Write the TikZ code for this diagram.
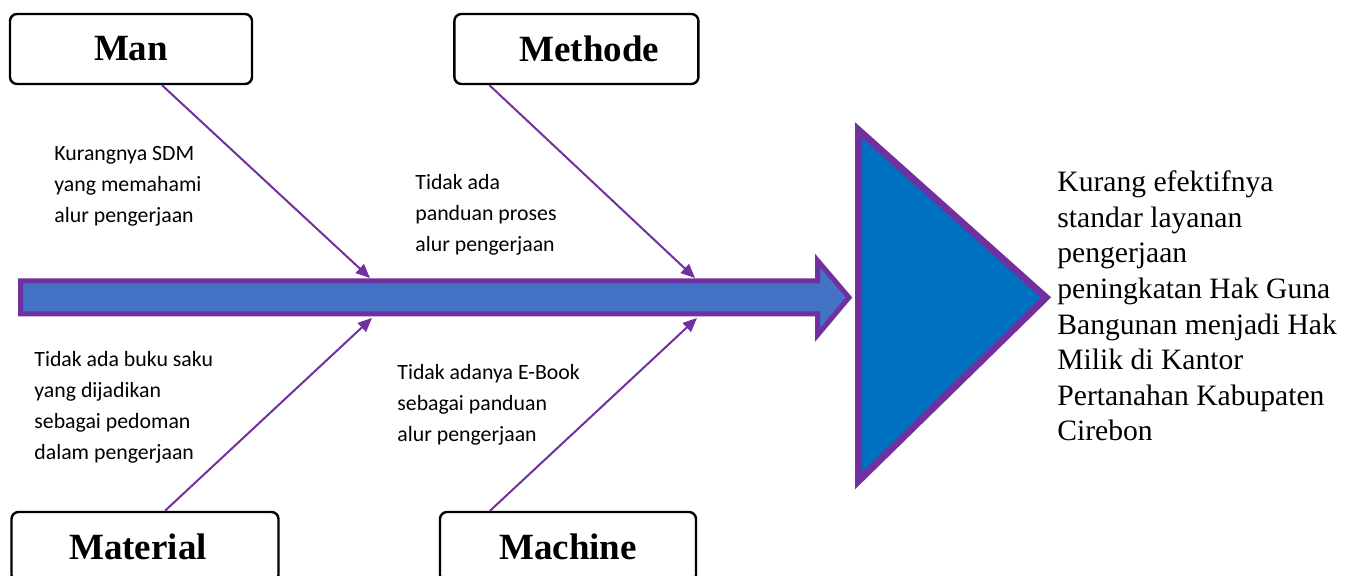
\documentclass[tikz,border=0pt]{standalone}
\usepackage{fontspec}
\setmainfont{Liberation Serif}
\newfontfamily\carlito{Carlito}
\usetikzlibrary{arrows.meta,positioning,shapes}
\definecolor{bonepurple}{HTML}{7030A0}
\definecolor{spineblue}{HTML}{4472C4}
\definecolor{headblue}{HTML}{0070C0}

\begin{document}
\begin{tikzpicture}[x=0.5pt,y=-0.5pt]
	\tikzstyle{cat}=[draw, rectangle, rounded corners=3.5pt, line width=1.2pt, minimum width=121pt, minimum height=35pt, font=\bfseries\fontsize{18.5}{22}\selectfont]
	\tikzstyle{cause}=[anchor=base west, align=left, inner sep=0pt, font=\carlito\fontsize{10.9}{15.5}\selectfont]
	\tikzstyle{bone}=[draw=bonepurple, line width=1pt, -{Triangle[length=7pt,width=6pt]}]

	\useasboundingbox (0,0) rectangle (1351,576);

	% spine and head
	\draw[bonepurple, fill=spineblue, line width=2.5pt] (20.5,281) -- (817.5,281) -- (817.5,260.5) -- (849,297.5) -- (817.5,335) -- (817.5,314) -- (20.5,314) -- cycle;
	\draw[bonepurple, fill=headblue, line width=3.5pt] (858.5,130) -- (1046,297.5) -- (858.5,481) -- cycle;

	\coordinate (j1) at (370,278);
	\coordinate (j2) at (695,278);
	\coordinate (j3) at (372,318);
	\coordinate (j4) at (697,318);

	\node[cat] (man) at (131,49) {Man};
	\node[cat, minimum width=122pt] (methode) [right=100pt of man] {\hspace*{13pt}Methode};
	\node[cat, minimum width=133.5pt] (material) at (145,547) {Material\hspace*{7pt}};
	\node[cat, minimum width=128pt] (machine) at (568,547) {Machine};

	% anchor base = last line
	\node[cause] (c1) at (54,223) {Kurangnya SDM\\yang memahami\\alur pengerjaan};
	\node[cause] (c2) at (415,252) {Tidak ada\\panduan proses\\alur pengerjaan};
	\node[cause] (c3) at (34,460) {Tidak ada buku saku\\yang dijadikan\\sebagai pedoman\\dalam pengerjaan};
	\node[cause] (c4) at (397,441.7) {Tidak adanya E-Book\\sebagai panduan\\alur pengerjaan};
	\node[anchor=base west, align=left, inner sep=0pt, font=\fontsize{14.8}{17.8}\selectfont] (effect) at (1057,441) {Kurang efektifnya\\standar layanan\\pengerjaan\\peningkatan Hak Guna\\Bangunan menjadi Hak\\Milik di Kantor\\Pertanahan Kabupaten\\Cirebon};

	\draw[bone] ([xshift=15.5pt]man.south) -- (j1);
	\draw[bone] ([xshift=-43.5pt]methode.south) -- (j2);
	\draw[bone] ([xshift=10pt]material.north) -- (j3);
	\draw[bone] ([xshift=-39pt]machine.north) -- (j4);
\end{tikzpicture}
\end{document}
